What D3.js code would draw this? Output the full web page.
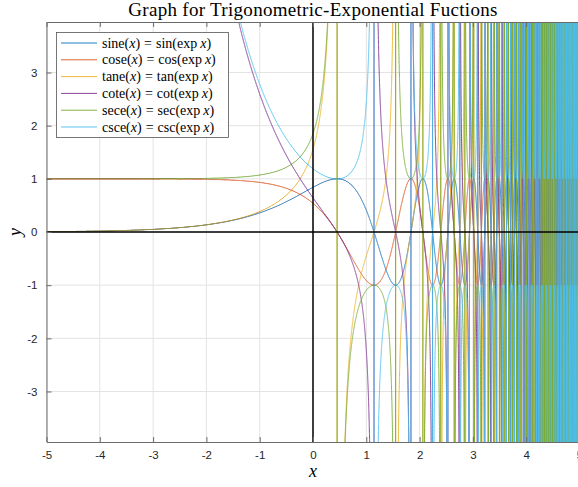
<!DOCTYPE html>
<html>
<head>
<meta charset="utf-8">
<script src="https://cdn.jsdelivr.net/npm/d3@7"></script>
<style>
  body { margin: 0; background: #fff; }
  svg { display: block; }
  .tick-label { font-family: "Liberation Sans", Arial, sans-serif; font-size: 11.5px; fill: #262626; }
  .tex { font-family: "Liberation Serif", "DejaVu Serif", serif; fill: #000; }
</style>
</head>
<body>
<svg id="chart"></svg>
<script>
// chart data
const xDomain = [-5, 5]
const yDomain = [-3.95, 3.95]
const sampleStep = 0.0005
const xTicks = [-5, -4, -3, -2, -1, 0, 1, 2, 3, 4, 5]
const yTicks = [-3, -2, -1, 0, 1, 2, 3]
const seriesNames = ['sine', 'cose', 'tane', 'cote', 'sece', 'csce']
const seriesFuncs = ['sin', 'cos', 'tan', 'cot', 'sec', 'csc']
const seriesColours = ['#0072BD', '#D95319', '#EDB120', '#7E2F8E', '#77AC30', '#4DBEEE']
const titleText = 'Graph for Trigonometric-Exponential Fuctions'

const width = 578
const height = 487
const margin = { top: 22, right: -1.5, bottom: 45, left: 46.5 }

const trig = {
  sin: Math.sin,
  cos: Math.cos,
  tan: Math.tan,
  cot: t => 1 / Math.tan(t),
  sec: t => 1 / Math.cos(t),
  csc: t => 1 / Math.sin(t)
}

// sample points along x, each curve is f(exp x)
const xs = d3.range(xDomain[0], xDomain[1] + sampleStep / 2, sampleStep)
const series = seriesFuncs.map((f, i) => ({
  name: seriesNames[i],
  func: f,
  colour: seriesColours[i],
  values: xs.map(x => [x, trig[f](Math.exp(x))])
}))

const svg = d3.select('#chart')
  .attr('width', width)
  .attr('height', height)

/// Scales ///
const xScale = d3.scaleLinear()
  .domain(xDomain)
  .range([margin.left, width - margin.right])

const yScale = d3.scaleLinear()
  .domain(yDomain)
  .range([height - margin.bottom, margin.top])

const plotW = width - margin.right - margin.left
const plotH = height - margin.bottom - margin.top

svg.append('defs').append('clipPath').attr('id', 'plot-clip')
  .append('rect')
  .attr('x', margin.left).attr('y', margin.top)
  .attr('width', plotW).attr('height', plotH)

/// Grid ///
const grid = svg.append('g')
grid.selectAll('.gx').data(xTicks).join('line')
  .attr('x1', d => xScale(d)).attr('x2', d => xScale(d))
  .attr('y1', margin.top).attr('y2', height - margin.bottom)
  .attr('stroke', '#e3e3e3').attr('stroke-width', 1)
grid.selectAll('.gy').data(yTicks).join('line')
  .attr('y1', d => yScale(d)).attr('y2', d => yScale(d))
  .attr('x1', margin.left).attr('x2', width - margin.right)
  .attr('stroke', '#e3e3e3').attr('stroke-width', 1)

/// Curves ///
const clampY = v => Math.max(-1e4, Math.min(1e4, v))
const line = d3.line()
  .x(d => xScale(d[0]))
  .y(d => yScale(clampY(d[1])))

const curvesG = svg.append('g').attr('clip-path', 'url(#plot-clip)')
curvesG.selectAll('path')
  .data(series)
  .join('path')
  .attr('d', d => line(d.values))
  .attr('fill', 'none')
  .attr('stroke', d => d.colour)
  .attr('stroke-width', 0.9)

// x = 0 and y = 0 lines
curvesG.append('line')
  .attr('x1', xScale(0)).attr('x2', xScale(0))
  .attr('y1', margin.top).attr('y2', height - margin.bottom)
  .attr('stroke', '#000').attr('stroke-width', 1.5)
curvesG.append('line')
  .attr('x1', margin.left).attr('x2', width - margin.right)
  .attr('y1', yScale(0)).attr('y2', yScale(0))
  .attr('stroke', '#000').attr('stroke-width', 1.5)

/// Axes (box with inward ticks) ///
const axisColour = '#6b6b6b'
const tickLen = 5
const bottomAxis = d3.axisBottom(xScale).tickValues(xTicks).tickSizeInner(-tickLen).tickSizeOuter(0).tickPadding(9)
const topAxis = d3.axisTop(xScale).tickValues(xTicks).tickSizeInner(-tickLen).tickSizeOuter(0).tickFormat('')
const leftAxis = d3.axisLeft(yScale).tickValues(yTicks).tickSizeInner(-tickLen).tickSizeOuter(0).tickPadding(9)
  .tickFormat(d3.format('d'))

const styleAxis = g => {
  g.select('.domain').attr('stroke', axisColour)
  g.selectAll('.tick line').attr('stroke', axisColour)
  g.selectAll('.tick text').attr('class', 'tick-label').attr('fill', null)
}

svg.append('g')
  .attr('transform', `translate(0, ${height - margin.bottom})`)
  .call(bottomAxis)
  .call(g => g.selectAll('.tick text').text(d => String(d)))
  .call(styleAxis)
svg.append('g')
  .attr('transform', `translate(0, ${margin.top})`)
  .call(topAxis)
  .call(styleAxis)
svg.append('g')
  .attr('transform', `translate(${margin.left}, 0)`)
  .call(leftAxis)
  .call(g => g.selectAll('.tick text').text(d => String(d)))
  .call(styleAxis)

/// Labels ///
const midX = xScale(0)
svg.append('text').attr('class', 'tex')
  .attr('x', midX).attr('y', 16)
  .attr('text-anchor', 'middle')
  .attr('font-size', '19px')
  .attr('letter-spacing', '0.3px')
  .text(titleText)

svg.append('text').attr('class', 'tex')
  .attr('x', midX).attr('y', 477)
  .attr('text-anchor', 'middle')
  .attr('font-size', '18px')
  .attr('font-style', 'italic')
  .text('x')

svg.append('text').attr('class', 'tex')
  .attr('transform', `translate(21, ${yScale(0)}) rotate(-90)`)
  .attr('text-anchor', 'middle')
  .attr('font-size', '18px')
  .attr('font-style', 'italic')
  .text('y')

/// Legend ///
const legend = svg.append('g').attr('transform', 'translate(56.5, 32.5)')
legend.append('rect')
  .attr('width', 172).attr('height', 105)
  .attr('fill', '#fff')
  .attr('stroke', '#555').attr('stroke-width', 0.8)

const rows = legend.selectAll('.legend-row')
  .data(series)
  .join('g')
  .attr('transform', (d, i) => `translate(0, ${10.5 + i * 16.8})`)

rows.append('line')
  .attr('x1', 4.5).attr('x2', 40.5)
  .attr('stroke', d => d.colour).attr('stroke-width', 0.9)

rows.append('text').attr('class', 'tex')
  .attr('x', 45.5).attr('y', 4.5)
  .attr('font-size', '14px')
  .each(function(d) {
    const t = d3.select(this)
    t.append('tspan').text(d.name + '(')
    t.append('tspan').attr('font-style', 'italic').text('x')
    t.append('tspan').text(')')
    t.append('tspan').attr('dx', 4).text('=')
    t.append('tspan').attr('dx', 4).text(d.func + '(exp')
    t.append('tspan').attr('dx', 3).attr('font-style', 'italic').text('x')
    t.append('tspan').text(')')
  })
</script>
</body>
</html>
